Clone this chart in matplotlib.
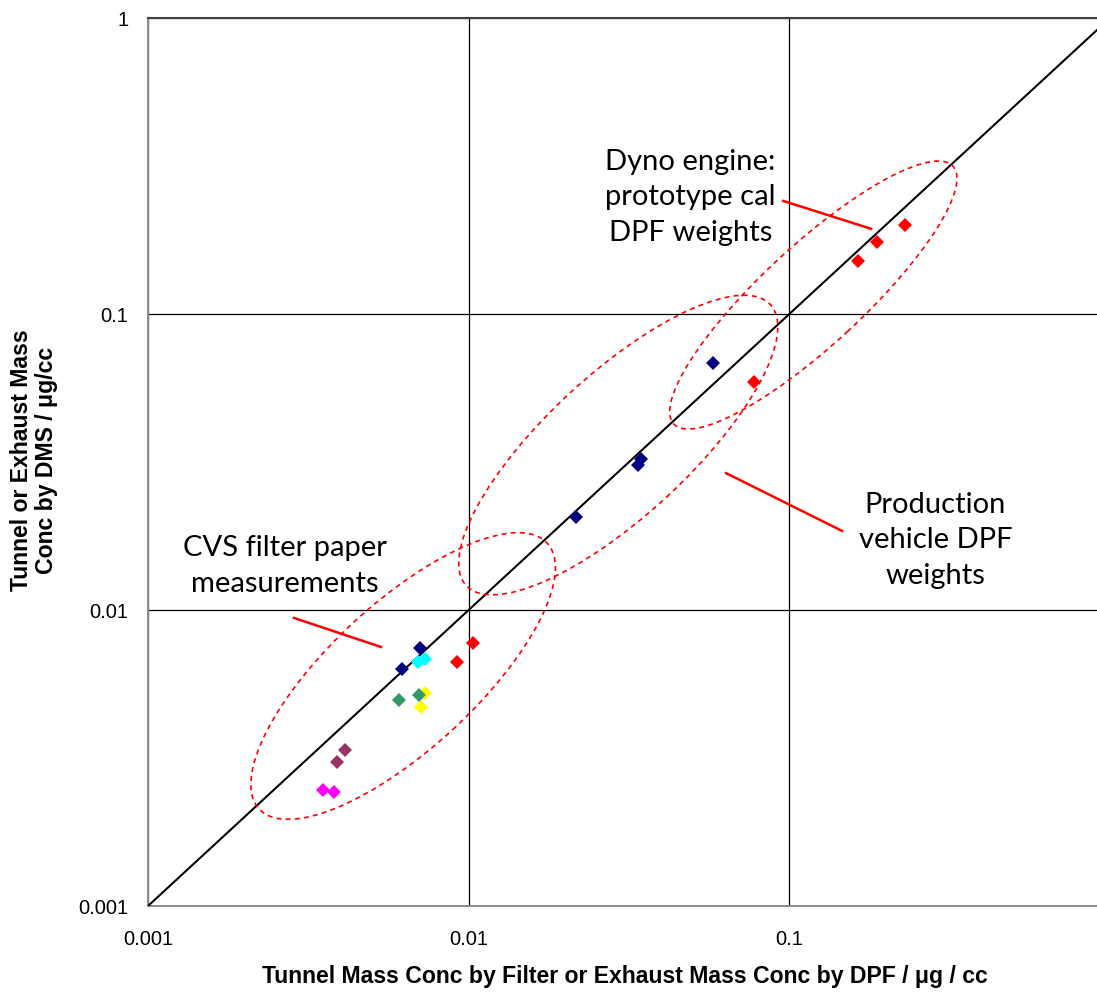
import numpy as np
import matplotlib
matplotlib.use("Agg")
import matplotlib.pyplot as plt
import matplotlib.transforms as mtransforms
from matplotlib.patches import Ellipse

# --- measured concentrations (x: filter / DPF, y: DMS), µg/cc ---
red_x = [0.229, 0.188, 0.164, 0.0778, 0.0103, 0.0092]
red_y = [0.200, 0.175, 0.151, 0.0589, 0.00774, 0.00667]
navy_x = [0.0580, 0.0345, 0.0338, 0.0216, 0.00707, 0.0062]
navy_y = [0.0683, 0.0324, 0.0309, 0.0206, 0.00745, 0.00632]
yellow_x = [0.00731, 0.00711]
yellow_y = [0.00524, 0.00470]
green_x = [0.00607, 0.00701]
green_y = [0.00497, 0.00516]
cyan_x = [0.00695, 0.00731]
cyan_y = [0.00667, 0.00683]
purple_x = [0.00412, 0.00389]
purple_y = [0.00336, 0.00307]
magenta_x = [0.00352, 0.00380]
magenta_y = [0.00247, 0.00243]

x_tick_values = [0.001, 0.01, 0.1]
x_tick_labels = ["0.001", "0.01", "0.1"]
y_tick_values = [0.001, 0.01, 0.1, 1]
y_tick_labels = ["0.001", "0.01", "0.1", "1"]

fig = plt.figure(figsize=(10.97, 9.94), dpi=100)
ax = fig.add_axes([148 / 1097, 88 / 994, 962 / 1097, 888 / 994])
ax.set_xscale("log")
ax.set_yscale("log")
ax.set_xlim(0.001, 1)
ax.set_ylim(0.001, 1)

ax.set_xticks(x_tick_values)
ax.set_xticklabels(x_tick_labels)
ax.set_yticks(y_tick_values)
ax.set_yticklabels(y_tick_labels)
ax.xaxis.set_minor_locator(matplotlib.ticker.NullLocator())
ax.yaxis.set_minor_locator(matplotlib.ticker.NullLocator())
ax.tick_params(axis="both", length=0, labelsize=14.5)
ax.tick_params(axis="x", pad=17)
ax.tick_params(axis="y", pad=14)
for lab in ax.get_xticklabels() + ax.get_yticklabels():
    lab.set_fontfamily("Liberation Sans")

ax.grid(True, which="major", color="black", linewidth=0.9)
ax.set_axisbelow(True)
ax.spines["left"].set_color("#8a8a8a")
ax.spines["bottom"].set_color("#8a8a8a")
ax.spines["left"].set_linewidth(1.4)
ax.spines["bottom"].set_linewidth(1.4)
ax.spines["top"].set_color("#404040")
ax.spines["top"].set_linewidth(1.5)
ax.spines["right"].set_visible(False)

# 1:1 line
ax.plot([0.001, 1], [0.001, 1], color="black", linewidth=1.5, zorder=3)

# data series
marker_kw = dict(marker="D", linestyle="none", markersize=6.8, markeredgewidth=0, zorder=5)
ax.plot(navy_x, navy_y, color="#000080", **marker_kw)
ax.plot(red_x, red_y, color="#ff0000", **marker_kw)
ax.plot(yellow_x, yellow_y, color="#ffff00", **marker_kw)
ax.plot(green_x, green_y, color="#339966", **marker_kw)
ax.plot(cyan_x, cyan_y, color="#00ffff", **marker_kw)
ax.plot(purple_x, purple_y, color="#993366", **marker_kw)
ax.plot(magenta_x, magenta_y, color="#ff00ff", **marker_kw)

# dashed grouping ellipses: centre in data units, semi-axes in inches
groups = [
    ((0.1188, 0.1159), 1.90, 0.50),
    ((0.02927, 0.03608), 2.07, 0.71),
    ((0.006246, 0.005984), 1.96, 0.73),
]
diag_angle = np.degrees(np.arctan2(888 / 3, 962 / 3))
for (cx, cy), a, b in groups:
    tr = fig.dpi_scale_trans + mtransforms.ScaledTranslation(cx, cy, ax.transData)
    ell = Ellipse((0, 0), 2 * a, 2 * b, angle=diag_angle, transform=tr,
                  fill=False, edgecolor="#ff0000", linewidth=1.2,
                  linestyle=(0, (3.0, 2.5)), zorder=4)
    ax.add_patch(ell)

# leader lines and group labels
leaders = [
    ([0.0957, 0.180], [0.241, 0.194]),
    ([0.0635, 0.146], [0.0290, 0.0185]),
    ([0.002854, 0.00533], [0.00940, 0.0075]),
]
for lx, ly in leaders:
    ax.plot(lx, ly, color="#ff0000", linewidth=1.8, zorder=4)

label_kw = dict(fontsize=21, fontfamily="Lato", ha="center", va="center",
                multialignment="center", linespacing=1.45, zorder=6)
ax.text(0.0491, 0.248, "Dyno engine:\nprototype cal\nDPF weights", **label_kw)
ax.text(0.2854, 0.01723, "Production\nvehicle DPF\nweights", **label_kw)
ax.text(0.002676, 0.01408, "CVS filter paper\nmeasurements", **label_kw)

fig.text(625 / 1097, 1 - 977 / 994,
         "Tunnel Mass Conc by Filter or Exhaust Mass Conc by DPF / \u03bcg / cc",
         ha="center", va="center", fontsize=16.6, fontweight="bold",
         fontfamily="Liberation Sans")
fig.text(34 / 1097, 1 - 460 / 994,
         "Tunnel or Exhaust Mass\nConc by DMS / \u03bcg/cc",
         ha="center", va="center", rotation=90, fontsize=16.6, fontweight="bold",
         fontfamily="Liberation Sans", multialignment="center", linespacing=1.1)

fig.savefig("out.png", dpi=100)
